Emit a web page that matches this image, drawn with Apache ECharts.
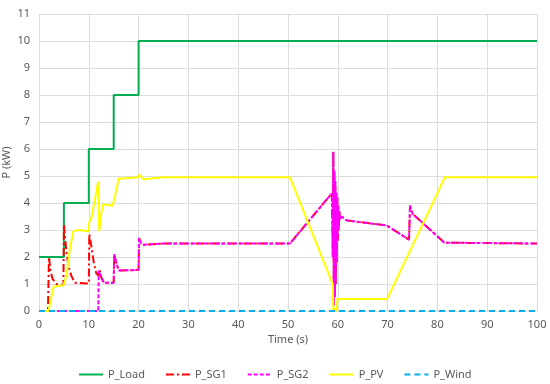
<!DOCTYPE html>
<html>
<head>
<meta charset="utf-8">
<script src="https://cdn.jsdelivr.net/npm/echarts@6/dist/echarts.min.js"></script>
<style>
  html, body { margin: 0; padding: 0; background: #fff; }
  #chart { width: 550px; height: 384px; }
</style>
</head>
<body>
<div id="chart"></div>
<script>
// 数据 [时间 s, 功率 kW]
var pLoad = [[0, 2], [5, 2], [5, 4], [10, 4], [10, 6], [15, 6], [15, 8], [20, 8], [20, 10], [100, 10]];

var pSG1 = [[0, 0], [1.8, 0], [2, 2.0], [2.3, 1.5], [2.7, 1.2], [3.5, 1.0], [4.9, 0.95],
  [5, 3.2], [5.5, 2.2], [6, 1.6], [6.5, 1.3], [7.2, 1.05], [10, 1.02],
  [10.1, 2.85], [10.5, 2.4], [11, 1.8], [11.5, 1.4], [12, 1.3], [12.2, 1.5], [12.5, 1.25], [13, 1.05],
  [15, 1.05], [15.1, 2.1], [15.5, 1.8], [16, 1.5], [20, 1.52], [20.1, 2.7], [20.5, 2.5], [21, 2.45],
  [25, 2.5], [50.4, 2.5], [58.8, 4.36], [59, 2.0], [59.1, 5.9], [59.2, 0.2], [59.3, 5.2], [59.4, 0.5],
  [59.5, 4.8], [59.6, 1.0], [59.7, 4.4], [59.8, 1.8], [59.9, 4.2], [60, 2.6], [60.1, 3.9], [60.2, 3.0],
  [60.3, 3.7], [60.5, 3.4], [60.8, 3.5], [61.5, 3.38], [62, 3.35], [69.8, 3.17], [74.3, 2.64],
  [74.5, 3.9], [75, 3.6], [81.4, 2.53], [100, 2.5]];

var pSG2 = [[0, 0], [11.9, 0], [12, 1.5], [12.5, 1.25], [13, 1.05], [15, 1.05], [15.1, 2.1], [15.5, 1.8],
  [16, 1.5], [20, 1.52], [20.1, 2.7], [20.5, 2.5], [21, 2.45], [25, 2.5], [50.4, 2.5], [58.8, 4.36],
  [59, 2.0], [59.1, 5.9], [59.2, 0.2], [59.3, 5.2], [59.4, 0.5], [59.5, 4.8], [59.6, 1.0], [59.7, 4.4],
  [59.8, 1.8], [59.9, 4.2], [60, 2.6], [60.1, 3.9], [60.2, 3.0], [60.3, 3.7], [60.5, 3.4], [60.8, 3.5],
  [61.5, 3.38], [62, 3.35], [69.8, 3.17], [74.3, 2.64], [74.5, 3.9], [75, 3.6], [81.4, 2.53], [100, 2.5]];

var pPV = [[0, 0], [1.9, 0], [2.9, 0.9], [4.9, 0.95], [5.5, 1.3], [6.2, 2.3], [6.9, 2.95], [8, 3.0],
  [10, 2.95], [10.1, 3.3], [10.6, 3.5], [11.9, 4.8], [12.1, 2.95], [12.5, 3.6], [12.9, 3.95],
  [14.8, 3.9], [15.1, 3.85], [15.3, 4.3], [16, 4.9], [20, 4.95], [20.2, 5.05], [21, 4.88], [25, 4.95],
  [50.4, 4.95], [59, 0.99], [59.1, 0], [59.5, 0.1], [59.8, 0], [59.9, 0.44], [69.9, 0.44],
  [81.5, 4.95], [100, 4.95]];

var pWind = [[0, 0], [100, 0]];

var seriesNames = ['P_Load', 'P_SG1', 'P_SG2', 'P_PV', 'P_Wind'];

var textColor = '#595959';
var font = '"Noto Sans", "DejaVu Sans", sans-serif';

var chart = echarts.init(document.getElementById('chart'));

function line(name, data, color, dash) {
  return {
    name: name,
    type: 'line',
    data: data,
    showSymbol: false,
    symbol: 'none',
    animation: false,
    lineStyle: { color: color, width: 2, type: dash || 'solid' },
    itemStyle: { color: color }
  };
}

chart.setOption({
  backgroundColor: '#fff',
  animation: false,
  grid: { left: 39, right: 13, top: 14, bottom: 73, containLabel: false, outerBoundsMode: 'none' },
  legend: {
    data: seriesNames,
    left: 73,
    top: 364,
    itemWidth: 24,
    itemHeight: 10,
    itemGap: 20,
    itemStyle: { opacity: 0 },
    textStyle: { color: textColor, fontSize: 11, fontFamily: font }
  },
  xAxis: {
    type: 'value',
    min: 0,
    max: 100,
    interval: 10,
    name: 'Time (s)',
    nameLocation: 'middle',
    nameGap: 23,
    nameMoveOverlap: false,
    nameTextStyle: { color: textColor, fontSize: 11, fontFamily: font },
    axisLine: { show: false },
    axisTick: { show: false },
    axisLabel: { color: textColor, fontSize: 11, fontFamily: font, margin: 8 },
    splitLine: { show: true, lineStyle: { color: '#dcdcdc', width: 1 } }
  },
  yAxis: {
    type: 'value',
    min: 0,
    max: 11,
    interval: 1,
    name: 'P (kW)',
    nameLocation: 'middle',
    nameGap: 27,
    nameMoveOverlap: false,
    nameTextStyle: { color: textColor, fontSize: 11, fontFamily: font },
    axisLine: { show: false },
    axisTick: { show: false },
    axisLabel: { color: textColor, fontSize: 11, fontFamily: font, margin: 9 },
    splitLine: { show: true, lineStyle: { color: '#dcdcdc', width: 1 } }
  },
  series: [
    line('P_Load', pLoad, '#00B050'),
    line('P_SG1', pSG1, '#FF0000', [8, 3, 2, 3]),
    line('P_SG2', pSG2, '#FF00FF', [4, 2]),
    line('P_PV', pPV, '#FFFF00'),
    line('P_Wind', pWind, '#00B0F0', [6, 4])
  ]
});
</script>
</body>
</html>
